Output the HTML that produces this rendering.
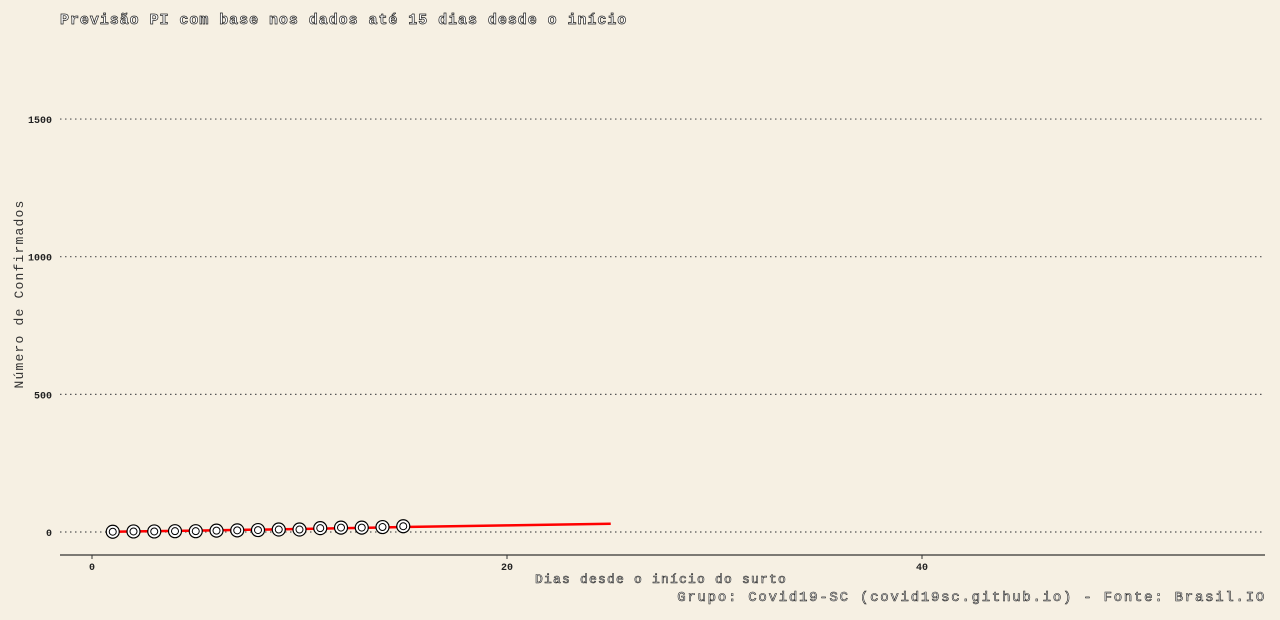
<!DOCTYPE html>
<html><head><meta charset="utf-8"><style>
body{margin:0;background:#f6f0e3;}
svg{display:block;font-family:"Liberation Mono","DejaVu Sans Mono",monospace;}
</style></head><body>
<svg id="chart" width="1280" height="620">
<rect width="1280" height="620" fill="#f6f0e3"/>
<text x="60" y="24" font-size="15" font-weight="bold" letter-spacing="0.95" fill="#fff" stroke="#222" stroke-width="0.7">Previsão PI com base nos dados até 15 dias desde o início</text>
<g id="grid"></g>
<line x1="60" y1="555" x2="1265" y2="555" stroke="#333" stroke-width="1.2"/>
<g id="xticks"></g>
<g id="series"></g>
<text x="23" y="294" font-size="13" letter-spacing="1.2" fill="#333" transform="rotate(-90 23 294)" text-anchor="middle">Número de Confirmados</text>
<text x="661" y="583" font-size="13" letter-spacing="1.2" fill="#fff" stroke="#222" stroke-width="0.6" text-anchor="middle">Dias desde o início do surto</text>
<text x="1266" y="601" font-size="14" letter-spacing="1.75" fill="#fff" stroke="#222" stroke-width="0.6" text-anchor="end">Grupo: Covid19-SC (covid19sc.github.io) - Fonte: Brasil.IO</text>
</svg>
<script>
const yTicks=[0,500,1000,1500];
const xTicks=[0,20,40];
const days=[1,2,3,4,5,6,7,8,9,10,11,12,13,14,15];
const cases=[1,2,2,3,3,5,6,7,9,9,14,16,16,18,21];
const predDays=[1,5,10,15,20,25];
const predVals=[1,5,11,18,24,30];
const NS="http://www.w3.org/2000/svg";
const sx=v=>92+v*20.75, sy=v=>532-v*0.2753;
function mk(t,a,p){const e=document.createElementNS(NS,t);for(const k in a)e.setAttribute(k,a[k]);p.appendChild(e);return e;}
const grid=document.getElementById('grid');
yTicks.forEach(v=>{
 const l=mk('line',{x1:60,x2:1265,y1:sy(v),y2:sy(v),stroke:'#555','stroke-dasharray':'1.5,3.5','stroke-width':1.2},grid);
 
 
 const t=mk('text',{x:52,y:sy(v)+4,'font-size':10,'text-anchor':'end',fill:'#222','font-weight':'bold'},grid);
 t.textContent=v;
 
 
});
const xt=document.getElementById('xticks');
xTicks.forEach(v=>{
 const l=mk('line',{x1:sx(v),x2:sx(v),y1:555,y2:559,stroke:'#333'},xt);
 
 
 const t=mk('text',{x:sx(v),y:570,'font-size':10,'text-anchor':'middle',fill:'#222','font-weight':'bold'},xt);
 t.textContent=v;
 
 
});
const s=document.getElementById('series');
const p=mk('polyline',{points:predDays.map((d,i)=>sx(d)+','+sy(predVals[i])).join(' '),fill:'none',stroke:'#f00','stroke-width':2.5},s);


days.forEach((d,i)=>{
 const c=mk('circle',{cx:sx(d),cy:sy(cases[i]),r:6.5,fill:'#fff',stroke:'#000','stroke-width':1.2},s);
 
 
 const c2=mk('circle',{cx:sx(d),cy:sy(cases[i]),r:3.5,fill:'none',stroke:'#000','stroke-width':1},s);
 
 
});
</script>
</body></html>
